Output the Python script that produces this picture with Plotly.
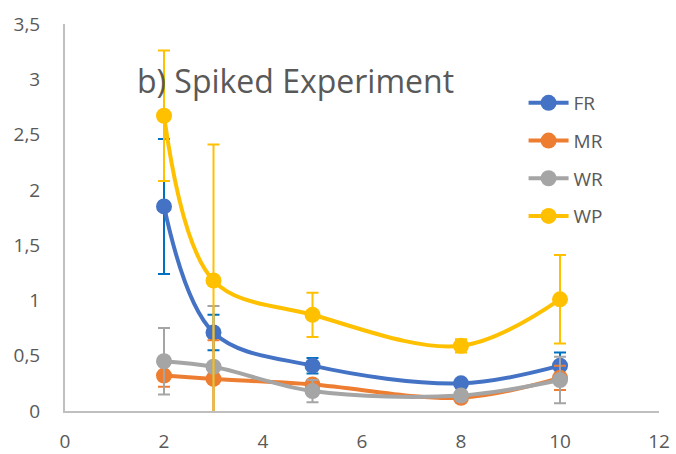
import plotly.graph_objects as go

x_vals = [2, 3, 5, 8, 10]

fr = [1.85, 0.71, 0.41, 0.25, 0.41]
fr_err = [0.61, 0.16, 0.07, 0.02, 0.12]
mr = [0.32, 0.29, 0.24, 0.12, 0.30]
mr_err = [0.10, 0.35, 0.03, 0.02, 0.11]
wr = [0.45, 0.40, 0.18, 0.14, 0.28]
wr_err = [0.30, 0.55, 0.10, 0.02, 0.21]
wp = [2.67, 1.18, 0.87, 0.59, 1.01]
wp_err = [0.59, 1.23, 0.20, 0.06, 0.40]

series_names = ["FR", "MR", "WR", "WP"]
series_colors = ["#4472C4", "#ED7D31", "#A5A5A5", "#FFC000"]
error_colors = ["#0070C0", "#ED7D31", "#A5A5A5", "#FFC000"]

y_ticks = [0, 0.5, 1, 1.5, 2, 2.5, 3, 3.5]
y_tick_labels = ["0", "0,5", "1", "1,5", "2", "2,5", "3", "3,5"]
x_ticks = [0, 2, 4, 6, 8, 10, 12]
x_tick_labels = ["0", "2", "4", "6", "8", "10", "12"]

title_text = "b) Spiked Experiment"

fig = go.Figure()
for name, ys, errs, col, ecol in zip(series_names, [fr, mr, wr, wp],
                                     [fr_err, mr_err, wr_err, wp_err],
                                     series_colors, error_colors):
    fig.add_trace(go.Scatter(
        x=x_vals, y=ys, name=name, mode="lines+markers",
        legendgroup=name,
        line=dict(color=col, width=4, shape="spline", smoothing=1),
        marker=dict(color=col, size=16),
        error_y=dict(type="data", array=errs, visible=True, color=ecol,
                     thickness=2, width=6),
    ))

font_family = "Open Sans, sans-serif"
tick_font = dict(family=font_family, size=19, color="#595959")

fig.update_layout(
    width=676, height=454,
    margin=dict(l=65, r=17, t=24, b=43),
    plot_bgcolor="white", paper_bgcolor="white",
    showlegend=True,
    legend=dict(x=0.772, y=0.845, xanchor="left", yanchor="top",
                font=dict(family=font_family, size=19, color="#595959"),
                tracegroupgap=10, bgcolor="rgba(0,0,0,0)", itemwidth=40),
    annotations=[dict(text=title_text, x=0.118, y=0.855, xref="paper", yref="paper",
                      xanchor="left", yanchor="middle", showarrow=False,
                      font=dict(family=font_family, size=32, color="#595959"))],
)
fig.update_xaxes(range=[0, 12], tickvals=x_ticks, ticktext=x_tick_labels,
                 showgrid=False, zeroline=False, showline=True, linecolor="#BFBFBF",
                 linewidth=2, tickfont=tick_font, ticks="", ticklabelstandoff=12,
                 automargin=False)
fig.update_yaxes(range=[0, 3.5], tickvals=y_ticks, ticktext=y_tick_labels,
                 showgrid=False, zeroline=False, showline=True, linecolor="#BFBFBF",
                 linewidth=2, tickfont=tick_font, ticks="", ticklabelstandoff=19,
                 automargin=False)

fig.write_html("out.html")
